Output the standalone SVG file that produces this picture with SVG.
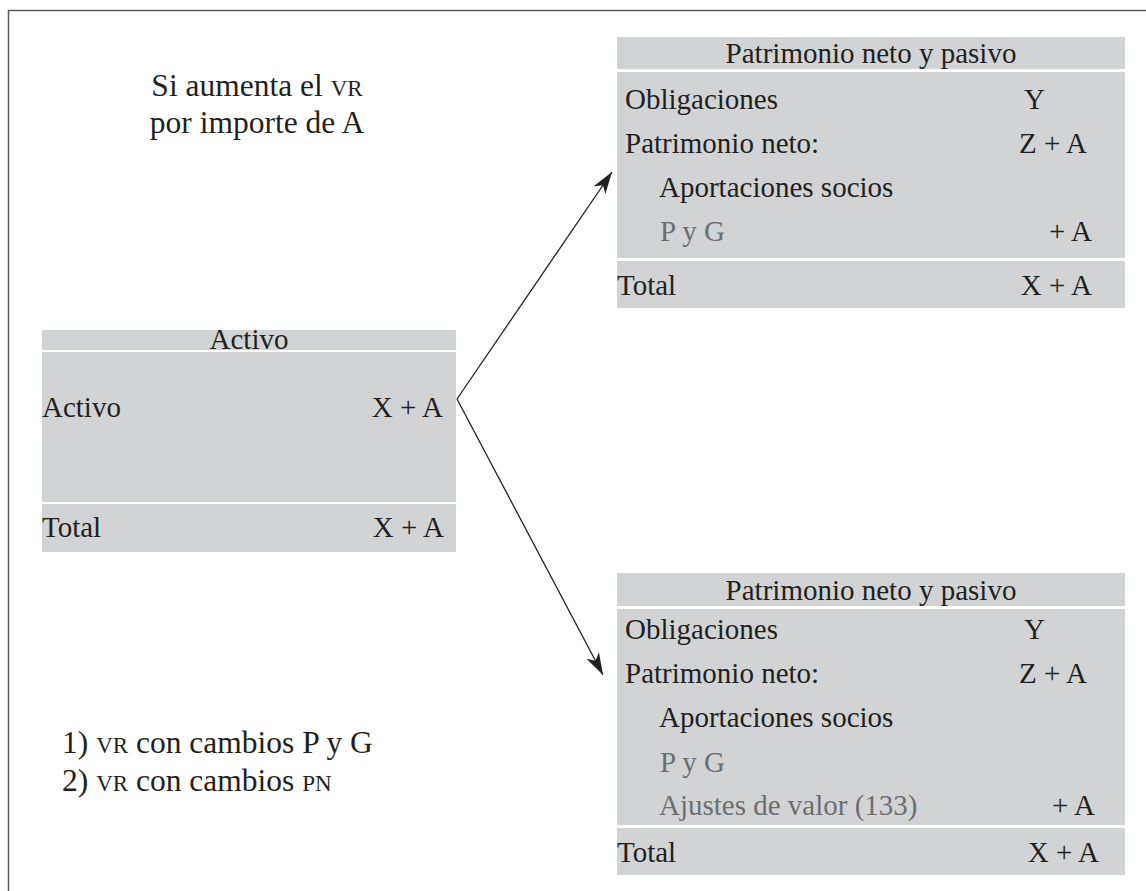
<svg xmlns="http://www.w3.org/2000/svg" width="1146" height="891" viewBox="0 0 1146 891">
<style>
text{font-family:"Liberation Serif","Times New Roman",serif;font-size:29px;fill:#231f20}
.big{font-size:31.5px}
.sc{font-size:23px}
.g{fill:#6d6e71}
.band{fill:#d1d3d4}
.e{text-anchor:end}
.m{text-anchor:middle}
</style>
<defs>
<marker id="ah" markerUnits="userSpaceOnUse" markerWidth="26" markerHeight="16" refX="22" refY="7" orient="auto">
<path d="M0,0 L22,7 L0,14 L6,7 z" fill="#231f20"/>
</marker>
</defs>
<rect width="1146" height="891" fill="#fff"/>
<path d="M8.5,891 V10.5 H1146" fill="none" stroke="#58595b" stroke-width="1.5"/>

<g id="title">
<text class="big m" x="257" y="96">Si aumenta el <tspan class="sc">VR</tspan></text>
<text class="big m" x="257" y="133">por importe de A</text>
</g>

<g id="notes">
<text class="big" x="62" y="753">1) <tspan class="sc">VR</tspan> con cambios P y G</text>
<text class="big" x="62" y="791">2) <tspan class="sc">VR</tspan> con cambios <tspan class="sc">PN</tspan></text>
</g>

<g id="activo">
<rect class="band" x="42" y="330" width="414" height="20"/>
<rect class="band" x="42" y="352" width="414" height="150"/>
<rect class="band" x="42" y="504" width="414" height="48"/>
<text class="m" x="249" y="349">Activo</text>
<text x="42" y="417">Activo</text>
<text class="e" x="443" y="417">X + A</text>
<text x="42" y="537">Total</text>
<text class="e" x="444" y="537">X + A</text>
</g>

<g id="pnp1">
<rect class="band" x="617" y="37" width="508" height="32"/>
<rect class="band" x="617" y="72" width="508" height="186"/>
<rect class="band" x="617" y="261" width="508" height="47"/>
<text class="m" x="871" y="63">Patrimonio neto y pasivo</text>
<text x="625" y="109">Obligaciones</text>
<text x="1024" y="109">Y</text>
<text x="625" y="153">Patrimonio neto:</text>
<text x="1019" y="153">Z + A</text>
<text x="659" y="197">Aportaciones socios</text>
<text class="g" x="660" y="241">P y G</text>
<text class="e" x="1092" y="241">+ A</text>
<text x="617" y="295">Total</text>
<text class="e" x="1092" y="295">X + A</text>
</g>

<g id="pnp2">
<rect class="band" x="617" y="573" width="508" height="33"/>
<rect class="band" x="617" y="609" width="508" height="216"/>
<rect class="band" x="617" y="828" width="508" height="47"/>
<text class="m" x="871" y="600">Patrimonio neto y pasivo</text>
<text x="625" y="639">Obligaciones</text>
<text x="1024" y="639">Y</text>
<text x="625" y="683">Patrimonio neto:</text>
<text x="1019" y="683">Z + A</text>
<text x="659" y="727">Aportaciones socios</text>
<text class="g" x="660" y="772">P y G</text>
<text class="g" x="659" y="815">Ajustes de valor (133)</text>
<text class="e" x="1095" y="815">+ A</text>
<text x="617" y="862">Total</text>
<text class="e" x="1099" y="862">X + A</text>
</g>

<g id="connectors" fill="none" stroke="#231f20" stroke-width="1.3">
<line x1="457" y1="399" x2="612" y2="172" marker-end="url(#ah)"/>
<line x1="457" y1="399" x2="603" y2="675" marker-end="url(#ah)"/>
</g>
</svg>
